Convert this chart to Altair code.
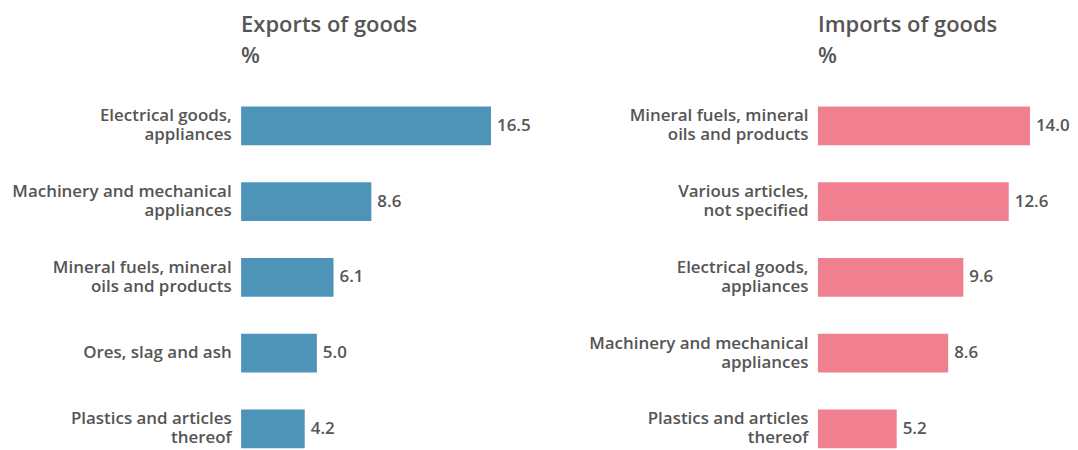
import altair as alt
import pandas as pd

export_categories = ["Electrical goods,|appliances", "Machinery and mechanical|appliances",
                     "Mineral fuels, mineral|oils and products", "Ores, slag and ash",
                     "Plastics and articles|thereof"]
export_values = [16.5, 8.6, 6.1, 5.0, 4.2]
import_categories = ["Mineral fuels, mineral|oils and products", "Various articles,|not specified",
                     "Electrical goods,|appliances", "Machinery and mechanical|appliances",
                     "Plastics and articles|thereof"]
import_values = [14.0, 12.6, 9.6, 8.6, 5.2]

FONT = "Open Sans"
TEXT = "#555555"
BLUE = "#4e93b8"
PINK = "#f08090"


def panel(cats, vals, color, title, xmax, width):
    df = pd.DataFrame({"category": cats, "value": vals})
    y = alt.Y("category:N", sort=cats, title=None,
              scale=alt.Scale(paddingInner=0.49, paddingOuter=0.25),
              axis=alt.Axis(labelExpr="split(datum.label, '|')", domain=False, ticks=False,
                            labelPadding=10, labelFontSize=17, labelFontWeight=600,
                            labelColor=TEXT, labelFont=FONT, labelLineHeight=19,
                            labelOffset={"condition": {"test": "indexof(datum.value, '|') >= 0",
                                                       "value": -9.5},
                                         "value": 0},
                            minExtent=234, maxExtent=234, labelLimit=232))
    x = alt.X("value:Q", scale=alt.Scale(domain=[0, xmax], nice=False, zero=True), axis=None)
    base = alt.Chart(df)
    bars = base.mark_bar(color=color).encode(x=x, y=y)
    labels = base.mark_text(align="left", baseline="middle", dx=6, fontSize=17, fontWeight=600,
                            color=TEXT, font=FONT).encode(
        x=x, y=y, text=alt.Text("value:Q", format=".1f"))
    return (bars + labels).properties(
        width=width, height=381,
        title=alt.TitleParams(title, subtitle="%", anchor="start", frame="group",
                              font=FONT, fontSize=22, fontWeight=600, color=TEXT,
                              subtitleFont=FONT, subtitleFontSize=22, subtitleFontWeight=600,
                              subtitleColor=TEXT, subtitlePadding=9, offset=20))


left = panel(export_categories, export_values, BLUE, "Exports of goods", 20, 304)
right = panel(import_categories, import_values, PINK, "Imports of goods", 16, 243.2)

chart = alt.hconcat(left, right, spacing=41).configure(
    padding={"top": 5, "left": 0, "right": 0, "bottom": 0}).configure_view(stroke=None)

chart.save("out.html", embed_options={"renderer": "svg", "actions": False})
